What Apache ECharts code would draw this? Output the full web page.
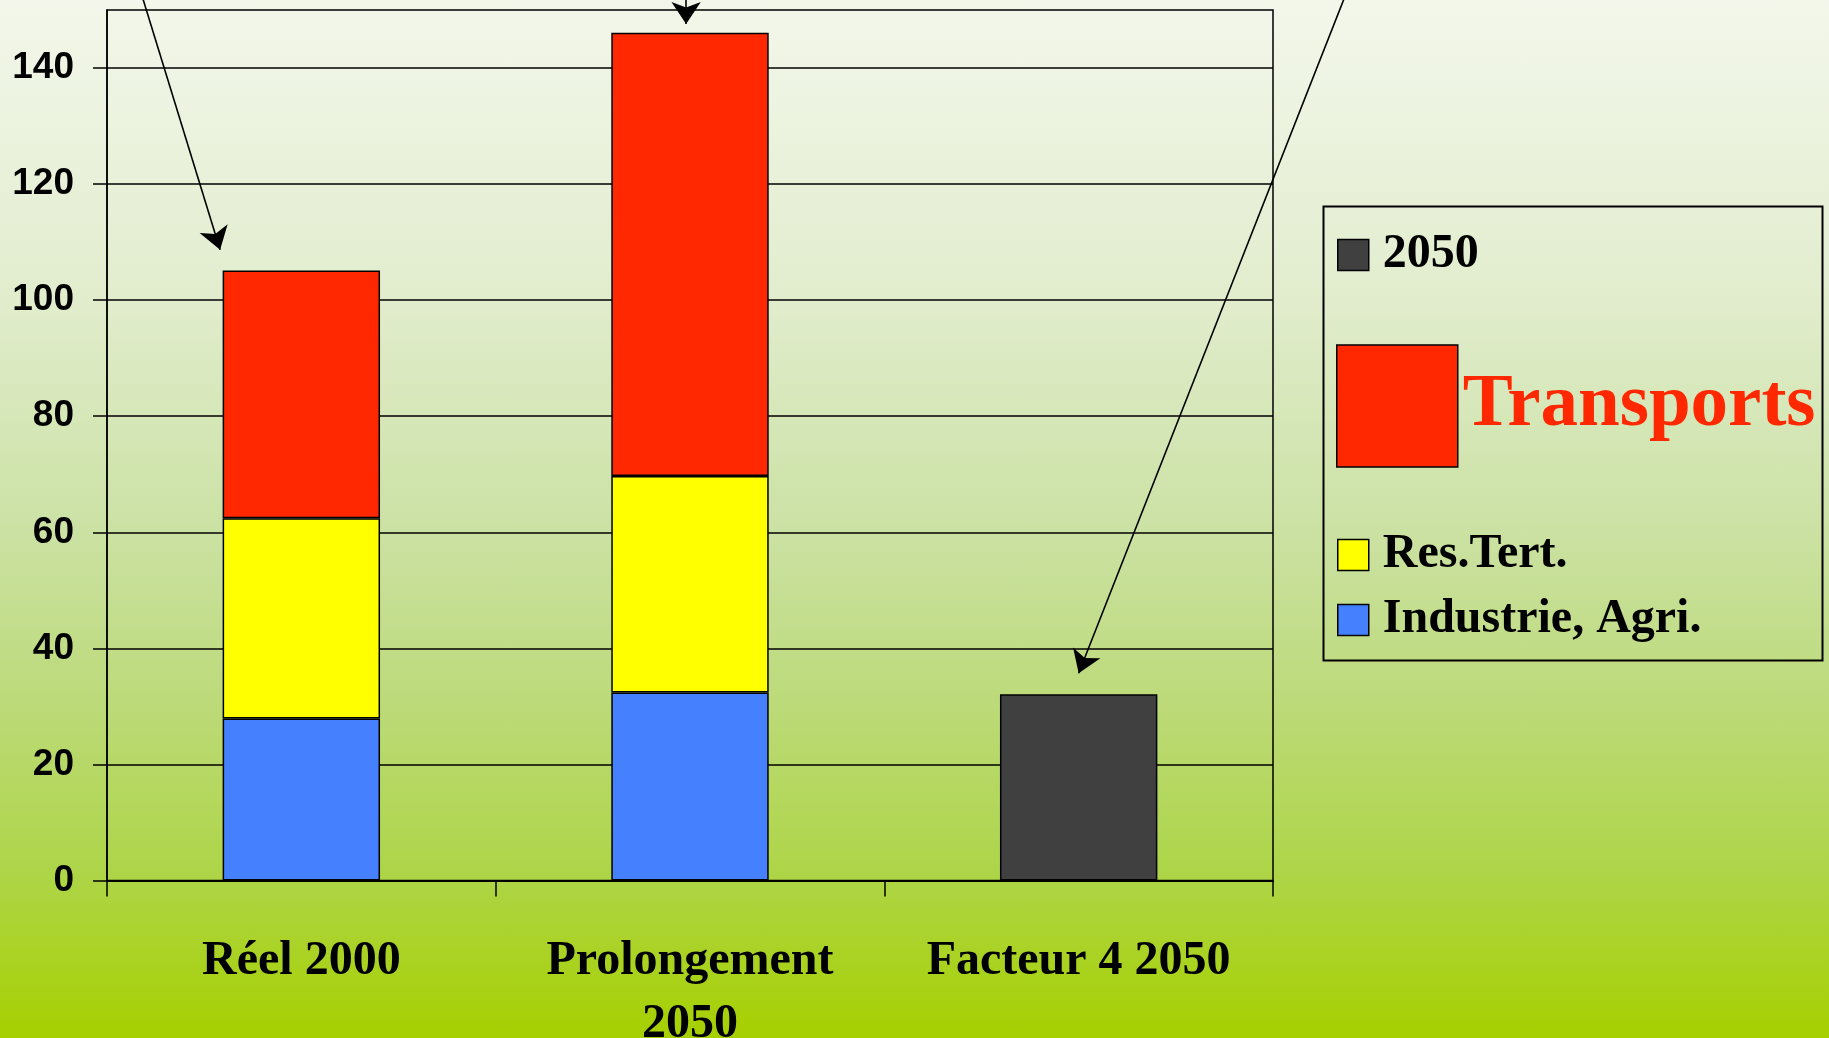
<!DOCTYPE html>
<html>
<head>
<meta charset="utf-8">
<script src="https://cdn.jsdelivr.net/npm/echarts@6/dist/echarts.min.js"></script>
<style>
html,body{margin:0;padding:0;}
#chart{width:1829px;height:1038px;background:linear-gradient(to bottom,#F3F7EB 0%,#E2EDCE 28%,#CCE2A6 50%,#BCDA78 68%,#AED548 84%,#A6D000 100%);}
</style>
</head>
<body>
<div id="chart"></div>
<script>
// ---- data ----
const categories = ['Réel 2000', 'Prolongement\n2050', 'Facteur 4 2050'];
const industrieAgri = [27.9, 32.4, '-'];
const resTert = [34.5, 37.3, '-'];
const transports = [42.7, 76.4, '-'];
const scenario2050 = ['-', '-', 32.1];
const yTickValues = [0, 20, 40, 60, 80, 100, 120, 140];
const legendNames = ['2050', 'Transports', 'Res.Tert.', 'Industrie, Agri.'];
// arrow annotations in data space: [categoryPosition, value]
const arrowStarts = [[-0.407, 151.8], [0.99, 151.8], [2.682, 151.8]];
const arrowEnds = [[-0.209, 108.7], [0.99, 147.6], [2.0, 35.7]];

const colors = {
  industrie: '#4580FF',
  res: '#FFFF00',
  transports: '#FF2800',
  dark: '#404040'
};
const serif = "'Liberation Serif', 'Times New Roman', serif";
const sans = "'Liberation Sans', Arial, sans-serif";

const chart = echarts.init(document.getElementById('chart'), null, {renderer: 'canvas'});

function legendFor(name, top, size, textStyle) {
  return {
    data: [name],
    left: name === 'Transports' ? 1336 : 1337,
    top: top,
    orient: 'vertical',
    padding: 0,
    selectedMode: false,
    icon: 'rect',
    itemWidth: size[0],
    itemHeight: size[1],
    itemStyle: {borderColor: '#000', borderWidth: 1.5},
    textStyle: textStyle
  };
}

const smallText = {fontFamily: serif, fontWeight: 'bold', fontSize: 48, color: '#000', lineHeight: 31, padding: [6, 0, 0, 9]};

const barBase = {
  type: 'bar',
  stack: 'total',
  barWidth: '40.5%',
  xAxisIndex: 0,
  yAxisIndex: 0
};

const option = {
  backgroundColor: 'transparent',
  animation: false,
  grid: {
    left: 107, right: 556, top: 10, bottom: 157.5,
    containLabel: false, outerBoundsMode: 'none',
    show: true, borderColor: '#000', borderWidth: 1.5, backgroundColor: 'transparent'
  },
  legend: [
    legendFor(legendNames[0], 231, [31, 31], smallText),
    legendFor(legendNames[1], 340, [121, 122], {
      fontFamily: serif, fontWeight: 'bold', fontSize: 75, color: colors.transports,
      lineHeight: 122, padding: [10, 0, 0, 0],
      textShadowColor: '#e4e4e4', textShadowOffsetX: 2, textShadowOffsetY: 2, textShadowBlur: 0
    }),
    legendFor(legendNames[2], 531, [31, 31], smallText),
    legendFor(legendNames[3], 596, [31, 31], smallText)
  ],
  graphic: [{
    type: 'rect',
    left: 1321, top: 204,
    shape: {width: 499, height: 454},
    style: {fill: 'none', stroke: '#000', lineWidth: 2},
    silent: true
  }],
  xAxis: [{
    type: 'category',
    data: categories,
    axisLine: {show: true, lineStyle: {color: '#000', width: 2}},
    axisTick: {show: true, length: 16, lineStyle: {color: '#000', width: 1.5}},
    axisLabel: {
      interval: 0, margin: 50, color: '#000',
      fontFamily: serif, fontWeight: 'bold', fontSize: 48, lineHeight: 63
    },
    splitLine: {show: false}
  }, {
    type: 'value',
    show: false,
    min: -0.5, max: 2.5,
    axisLine: {show: false},
    splitLine: {show: false}
  }],
  yAxis: {
    type: 'value',
    min: 0, max: 150, interval: 10,
    axisLine: {show: true, onZero: false, lineStyle: {color: '#000', width: 1.5}},
    axisTick: {show: true, length: 14, customValues: yTickValues, lineStyle: {color: '#000', width: 1.5}},
    axisLabel: {
      customValues: yTickValues, margin: 33, color: '#000',
      fontFamily: sans, fontWeight: 'bold', fontSize: 37
    },
    splitLine: {show: true, lineStyle: {color: '#000', width: 1.5}},
  },
  series: [
    Object.assign({}, barBase, {name: 'Industrie, Agri.', data: industrieAgri,
      itemStyle: {color: colors.industrie, borderColor: '#000', borderWidth: 1.5}}),
    Object.assign({}, barBase, {name: 'Res.Tert.', data: resTert,
      itemStyle: {color: colors.res, borderColor: '#000', borderWidth: 1.5}}),
    Object.assign({}, barBase, {name: 'Transports', data: transports,
      itemStyle: {color: colors.transports, borderColor: '#000', borderWidth: 1.5}}),
    Object.assign({}, barBase, {name: '2050', data: scenario2050,
      itemStyle: {color: colors.dark, borderColor: '#000', borderWidth: 1.5}}),
    {
      type: 'lines',
      coordinateSystem: 'cartesian2d',
      xAxisIndex: 1,
      yAxisIndex: 0,
      clip: false,
      silent: true,
      z: 10,
      symbol: ['none', 'arrow'],
      symbolSize: [16, 22],
      lineStyle: {color: '#000', width: 1.6, opacity: 1},
      data: arrowStarts.map((s, i) => ({coords: [s, arrowEnds[i]]}))
    }
  ]
};
chart.setOption(option);
</script>
</body>
</html>
